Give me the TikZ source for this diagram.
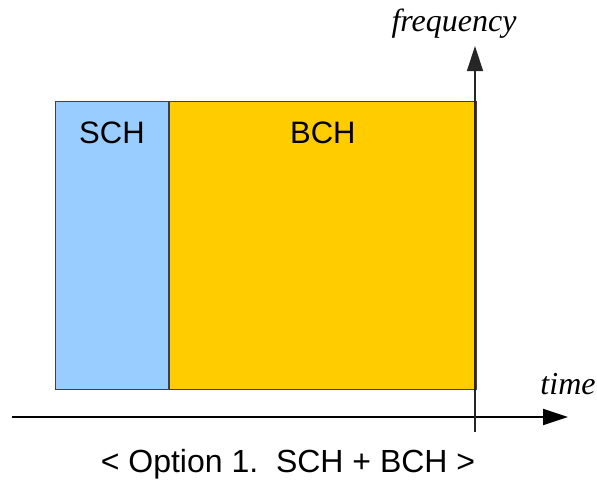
\documentclass[tikz,border=0pt]{standalone}
\usepackage{fontspec}
\setmainfont{Liberation Sans}
\newfontfamily\serifit{Liberation Serif}
\usetikzlibrary{arrows.meta,positioning}
\definecolor{schblue}{HTML}{99CCFF}
\definecolor{bchyellow}{HTML}{FFCC00}
\tikzset{
	chan/.style = {draw=black!75, line width=0.9pt, inner sep=0pt, anchor=north west, minimum height=288pt},
	chanlabel/.style = {font=\fontsize{31}{36}\selectfont, inner sep=0pt},
	axislabel/.style = {font=\fontsize{32}{36}\selectfont\serifit\itshape, inner sep=0pt},
	axis/.style = {-{Triangle[length=25pt,width=16pt]}}
}
\begin{document}
\begin{tikzpicture}[x=1pt,y=-1pt]
		\useasboundingbox (0,0) rectangle (597,482);
		\node[chan, fill=schblue, minimum width=113pt] (sch) at (55,101) {};
		\node[chan, fill=bchyellow, minimum width=307pt] (bch) at (sch.north east) {};
		\node[chanlabel] at ([yshift=-32pt]sch.north) {SCH};
		\node[chanlabel] at ([yshift=-32pt]bch.north) {BCH};
		\coordinate (tstart) at (12,417);
		\coordinate (tend) at (568,417);
		\coordinate (fstart) at (475,432);
		\coordinate (fend) at (475,46);
		\draw[axis, line width=2pt] (tstart) -- (tend);
		\draw[axis, line width=1.4pt, black!85] (fstart) -- (fend);
		\node[axislabel] (freq) at (454,24) {frequency};
		\node[axislabel] (time) at (568,384) {time};
		\node[font=\fontsize{32}{36}\selectfont, inner sep=0pt] (caption) at (288,464) {<\ Option 1.\ \ SCH + BCH\ >};
	\end{tikzpicture}
\end{document}
